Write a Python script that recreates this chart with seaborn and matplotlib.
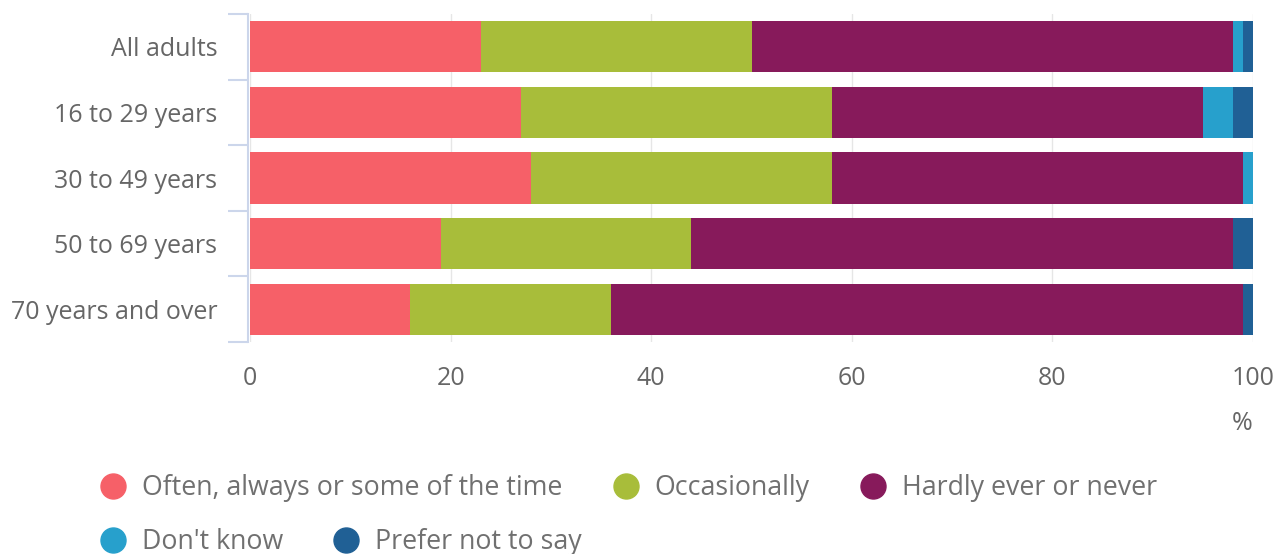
import numpy as np
import pandas as pd
import matplotlib.pyplot as plt
from matplotlib.lines import Line2D
import seaborn as sns

categories = ["All adults", "16 to 29 years", "30 to 49 years", "50 to 69 years", "70 years and over"]
series_names = ["Often, always or some of the time", "Occasionally", "Hardly ever or never",
                "Don't know", "Prefer not to say"]
often = [23, 27, 28, 19, 16]
occasionally = [27, 31, 30, 25, 20]
hardly = [48, 37, 41, 54, 63]
dont_know = [1, 3, 1, 0, 0]
prefer_not = [1, 2, 0, 2, 1]
colors = ["#F66068", "#A8BD3A", "#871A5B", "#27A0CC", "#206095"]

df = pd.DataFrame({"category": categories,
                   series_names[0]: often,
                   series_names[1]: occasionally,
                   series_names[2]: hardly,
                   series_names[3]: dont_know,
                   series_names[4]: prefer_not})
cum = df[series_names].cumsum(axis=1)
cum["category"] = df["category"]

sns.set_style("white")
plt.rcParams["font.family"] = ["Open Sans", "DejaVu Sans"]
text_col = "#666666"

fig = plt.figure(figsize=(12.83, 5.54), dpi=100)
ax = fig.add_axes([250 / 1283, 1 - 342 / 554, 1003 / 1283, 328 / 554])

# stacked bars: draw cumulative totals from the widest to the narrowest
for name, col in zip(series_names[::-1], colors[::-1]):
    sns.barplot(data=cum, x=name, y="category", orient="h", color=col,
                saturation=1, width=0.78, linewidth=0, ax=ax, zorder=3)

ax.set_xlim(0, 100)
ax.set_ylim(4.5, -0.5)
ax.set_xticks([0, 20, 40, 60, 80, 100])
ax.set_xlabel("")
ax.set_ylabel("")
ax.grid(axis="x", color="#e6e6e6", linewidth=1, zorder=0)
ax.grid(axis="y", visible=False)
for s in ["top", "right", "bottom"]:
    ax.spines[s].set_visible(False)
ax.spines["left"].set_color("#ccd6eb")
ax.spines["left"].set_linewidth(1.5)
ax.spines["left"].set_position(("outward", 1.5))
ax.spines["left"].set_zorder(5)

ax.set_yticks(range(len(categories)))
ax.set_yticklabels(categories)
ax.set_yticks(np.arange(-0.5, len(categories), 1), minor=True)
ax.tick_params(axis="y", which="major", left=False, length=0, pad=22, labelsize=18, labelcolor=text_col)
ax.tick_params(axis="y", which="minor", left=True, length=14.5, width=1.5, color="#ccd6eb")
ax.tick_params(axis="x", length=0, pad=17, labelsize=18, labelcolor=text_col)

fig.text(1242 / 1283, 1 - 423 / 554, "%", ha="center", va="center", fontsize=18, color=text_col)

handles = [Line2D([], [], linestyle="none", marker="o", markersize=18, color=c) for c in colors]
leg_kw = dict(loc="center left", frameon=False, fontsize=19.3, handlelength=0.95,
              handletextpad=0.6, columnspacing=1.9, borderpad=0, borderaxespad=0,
              labelcolor="#707070")
leg1 = fig.legend(handles[:3], series_names[:3], ncol=3,
                  bbox_to_anchor=(100 / 1283, 1 - 488 / 554), **leg_kw)
leg2 = fig.legend(handles[3:], series_names[3:], ncol=2,
                  bbox_to_anchor=(100 / 1283, 1 - 542 / 554), **leg_kw)

fig.savefig("out.png", dpi=100)
plt.close(fig)
